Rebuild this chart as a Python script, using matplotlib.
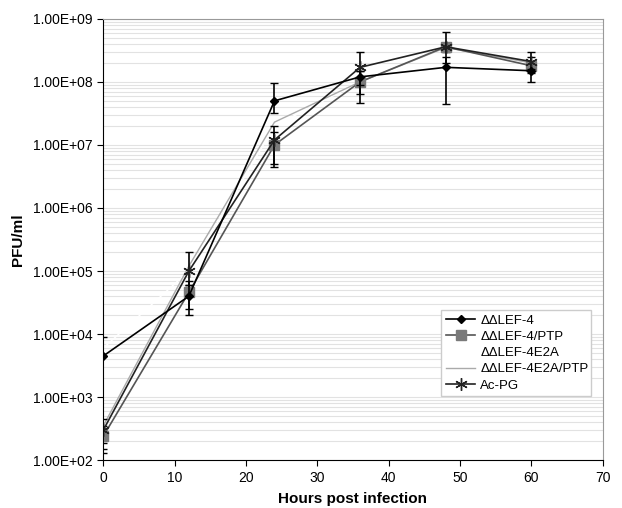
import matplotlib
matplotlib.use("Agg")
import matplotlib.pyplot as plt
import numpy as np
from matplotlib.ticker import FixedLocator, LogLocator, NullFormatter
from matplotlib.lines import Line2D

plt.rcParams['font.family'] = ['Liberation Sans', 'DejaVu Sans']

hours = [0, 12, 24, 36, 48, 60]

lef4 = [4.5e3, 4.0e4, 5.0e7, 1.2e8, 1.7e8, 1.5e8]
lef4_lo = [1.5e2, 2.5e4, 3.2e7, 9.0e7, 4.5e7, 1.4e8]
lef4_hi = [9.0e3, 6.0e4, 9.5e7, 1.5e8, 2.5e8, 1.6e8]

ptp = [2.4e2, 4.6e4, 1.0e7, 1.0e8, 3.6e8, 1.8e8]
ptp_lo = [1.3e2, 2.0e4, 4.5e6, 4.6e7, 3.0e8, 1.0e8]
ptp_hi = [3.5e2, 7.0e4, 1.6e7, 1.5e8, 4.2e8, 2.5e8]

e2a = [6.0e3, 1.0e5, 2.0e7, 1.0e8, 3.5e8, 2.0e8]

e2aptp = [3.5e2, 1.2e5, 2.3e7, 1.0e8, 3.5e8, 2.0e8]

acpg = [3.0e2, 1.0e5, 1.2e7, 1.7e8, 3.6e8, 2.1e8]
acpg_lo = [1.9e2, 6.0e4, 5.0e6, 6.5e7, 2.0e8, 1.5e8]
acpg_hi = [4.5e2, 2.0e5, 2.0e7, 3.0e8, 6.2e8, 3.0e8]

labels = ['ΔΔLEF-4', 'ΔΔLEF-4/PTP', 'ΔΔLEF-4E2A', 'ΔΔLEF-4E2A/PTP', 'Ac-PG']
ytick_vals = [1e2, 1e3, 1e4, 1e5, 1e6, 1e7, 1e8, 1e9]
ytick_labels = ['1.00E+02', '1.00E+03', '1.00E+04', '1.00E+05',
                '1.00E+06', '1.00E+07', '1.00E+08', '1.00E+09']
xticks = [0, 10, 20, 30, 40, 50, 60, 70]

STAR = (6, 2, 0)

fig = plt.figure(figsize=(6.22, 5.08), dpi=100)
ax = fig.add_axes([0.166, 0.094, 0.803, 0.869])

ax.set_yscale('log')
ax.set_ylim(1e2, 1e9)
ax.set_xlim(0, 70)

ax.yaxis.set_minor_locator(LogLocator(base=10, subs=np.arange(2, 10)))
ax.yaxis.set_minor_formatter(NullFormatter())
ax.grid(True, axis='y', which='both', color='#e2e2e2', linewidth=0.8)
ax.set_axisbelow(True)

def yerr(v, lo, hi):
    v = np.array(v); lo = np.array(lo); hi = np.array(hi)
    return [v - lo, hi - v]

ax.plot(hours, e2a, color='white', linewidth=1.0, zorder=2)
ax.plot(hours, e2aptp, color='#aaaaaa', linewidth=1.0, zorder=2)
ax.errorbar(hours, ptp, yerr=yerr(ptp, ptp_lo, ptp_hi), color='#555555', ecolor='black',
            linewidth=1.2, marker='s', markersize=7, markerfacecolor='#7a7a7a',
            markeredgecolor='#7a7a7a', capsize=3, elinewidth=1.2, zorder=3)
ax.errorbar(hours, acpg, yerr=yerr(acpg, acpg_lo, acpg_hi), color='#222222', ecolor='black',
            linewidth=1.2, marker=STAR, markersize=9, markeredgewidth=1.0,
            capsize=3, elinewidth=1.2, zorder=4)
ax.errorbar(hours, lef4, yerr=yerr(lef4, lef4_lo, lef4_hi), color='black', ecolor='black',
            linewidth=1.2, marker='D', markersize=4, capsize=3, elinewidth=1.2, zorder=5)

ax.yaxis.set_major_locator(FixedLocator(ytick_vals))
ax.set_yticklabels(ytick_labels)
ax.set_xticks(xticks)
ax.tick_params(axis='both', which='major', labelsize=10, direction='out', length=4)
ax.tick_params(axis='y', which='minor', length=0)

for s in ['top', 'right']:
    ax.spines[s].set_color('#999999')
for s in ['left', 'bottom']:
    ax.spines[s].set_color('black')

ax.set_xlabel('Hours post infection', fontsize=11, fontweight='bold', labelpad=5)
ax.set_ylabel('PFU/ml', fontsize=11, fontweight='bold', labelpad=6)

handles = [
    Line2D([], [], color='black', linewidth=1.2, marker='D', markersize=4),
    Line2D([], [], color='#555555', linewidth=1.2, marker='s', markersize=7,
           markerfacecolor='#7a7a7a', markeredgecolor='#7a7a7a'),
    Line2D([], [], color='white', linewidth=1.0),
    Line2D([], [], color='#aaaaaa', linewidth=1.0),
    Line2D([], [], color='#222222', linewidth=1.2, marker=STAR, markersize=9),
]
leg = ax.legend(handles, labels,
                loc='lower left', bbox_to_anchor=(0.664, 0.13, 0.325, 0.24),
                mode='expand', fontsize=9.5, frameon=True, fancybox=False,
                edgecolor='#cccccc', framealpha=1, borderpad=0.35, labelspacing=0.3,
                handlelength=2.2, handletextpad=0.4)

fig.savefig('out.png', dpi=100)
